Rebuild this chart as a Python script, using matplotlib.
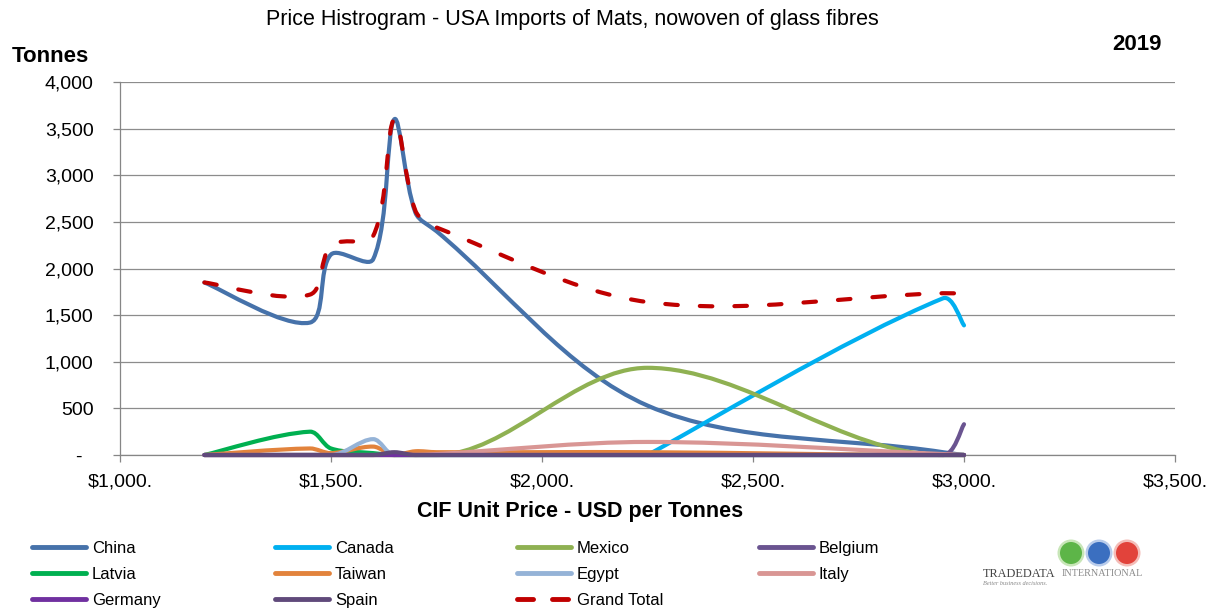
import numpy as np
import matplotlib
matplotlib.use("Agg")
import matplotlib.pyplot as plt
from matplotlib.path import Path
from matplotlib.patches import PathPatch, Circle
from matplotlib.lines import Line2D
from matplotlib.ticker import FuncFormatter, MultipleLocator

plt.rcParams['font.family'] = ['Liberation Sans', 'DejaVu Sans']

# CIF unit price points (USD per tonne)
prices = [1200, 1450, 1500, 1600, 1650, 1700, 1750, 2250, 2950, 3000]

# tonnes per price point (None = no data)
china = [1850, 1420, 2150, 2100, 3600, 2600, 2400, 530, 30, 0]
canada = [None, None, None, None, None, None, None, 0, 1680, 1390]
mexico = [0, 0, 0, 0, 0, 0, 0, 935, 0, 0]
belgium = [0, 0, 0, 0, 0, 0, 0, 0, 0, 330]
latvia = [0, 250, 70, 20, 0, 0, 0, 0, 0, 0]
taiwan = [0, 70, 20, 90, 0, 40, 30, 30, 0, 0]
egypt = [0, 0, 0, 170, 0, 0, 0, 0, 0, 0]
italy = [0, 0, 0, 0, 0, 0, 10, 140, 10, 0]
germany = [0, 0, 0, 0, 0, 0, 0, 0, 0, 0]
spain = [0, 0, 0, 0, 30, 0, 0, 0, 0, 0]
grand_total = [1850, 1720, 2250, 2350, 3600, 2620, 2440, 1640, 1735, 1730]

series = [
    ("China", china, "#4672AA"),
    ("Canada", canada, "#00B0F0"),
    ("Mexico", mexico, "#8FB152"),
    ("Belgium", belgium, "#6A5490"),
    ("Latvia", latvia, "#00B050"),
    ("Taiwan", taiwan, "#E2833C"),
    ("Egypt", egypt, "#95B3D7"),
    ("Italy", italy, "#D99694"),
    ("Germany", germany, "#7030A0"),
    ("Spain", spain, "#604A7B"),
]

W, H = 1212, 608
ax_box = [120, 82, 1175, 455]  # left, top, right, bottom in pixels
xmin, xmax, ymin, ymax = 1000, 3500, 0, 4000


def smooth_path(xs, ys, sx, sy):
    # Excel-like smoothed line: bezier segments, handles scaled by segment length
    pts = [(x, y) for x, y in zip(xs, ys) if y is not None]
    p = np.array(pts, float) * [sx, sy]
    n = len(p)
    c_out = np.zeros_like(p)
    c_in = np.zeros_like(p)
    for i in range(n):
        if i == 0:
            c_out[i] = p[i] + (p[1] - p[0]) / 6
            continue
        if i == n - 1:
            c_in[i] = p[i] - (p[i] - p[i - 1]) / 6
            continue
        t = p[i + 1] - p[i - 1]
        if p[i][1] == 0:
            t[1] = 0  # keep zero points flat on the axis
        d_in = np.hypot(*(p[i] - p[i - 1]))
        d_out = np.hypot(*(p[i + 1] - p[i]))
        s = d_in + d_out
        if s == 0:
            c_out[i] = p[i]
            c_in[i] = p[i]
        else:
            c_out[i] = p[i] + t * d_out / s / 3
            c_in[i] = p[i] - t * d_in / s / 3
    verts = [p[0]]
    codes = [Path.MOVETO]
    for i in range(n - 1):
        verts += [c_out[i], c_in[i + 1], p[i + 1]]
        codes += [Path.CURVE4] * 3
    verts = np.array(verts) / [sx, sy]
    return Path(verts, codes)


fig = plt.figure(figsize=(W / 100, H / 100), dpi=100)
ax = fig.add_axes([ax_box[0] / W, 1 - ax_box[3] / H,
                   (ax_box[2] - ax_box[0]) / W, (ax_box[3] - ax_box[1]) / H])
ax.set_xlim(xmin, xmax)
ax.set_ylim(ymin, ymax)

sx = (ax_box[2] - ax_box[0]) / (xmax - xmin)
sy = (ax_box[3] - ax_box[1]) / (ymax - ymin)

for name, vals, col in series:
    ax.add_patch(PathPatch(smooth_path(prices, vals, sx, sy), fill=False,
                           edgecolor=col, lw=3, capstyle='round',
                           joinstyle='round', clip_on=False, zorder=3))
ax.add_patch(PathPatch(smooth_path(prices, grand_total, sx, sy), fill=False,
                       edgecolor="#C00000", lw=3, linestyle=(0, (3.0, 5.3)),
                       capstyle='round', joinstyle='round', clip_on=False, zorder=4))

ax.xaxis.set_major_locator(MultipleLocator(500))
ax.yaxis.set_major_locator(MultipleLocator(500))
ax.xaxis.set_major_formatter(FuncFormatter(lambda v, p: "${:,.0f}.".format(v)))
ax.yaxis.set_major_formatter(FuncFormatter(lambda v, p: "-  " if v == 0 else "{:,.0f}".format(v)))

for s in ["top", "right"]:
    ax.spines[s].set_visible(False)
for s in ["left", "bottom"]:
    ax.spines[s].set_color("#868686")
    ax.spines[s].set_linewidth(0.9)
ax.grid(axis='y', color="#8C8C8C", lw=0.9)
ax.set_axisbelow(True)
ax.tick_params(axis='both', direction='out', length=5, color="#868686", width=0.9, labelsize=14)
ax.tick_params(axis='y', pad=14)
ax.tick_params(axis='x', pad=8)

fig.text(572 / W, 1 - 20 / H, "Price Histrogram - USA Imports of Mats, nowoven of glass fibres",
         ha='center', va='center', fontsize=15.5)
fig.text(12 / W, 1 - 57 / H, "Tonnes", ha='left', va='center', fontsize=16, fontweight='bold')
fig.text(1162 / W, 1 - 45 / H, "2019", ha='right', va='center', fontsize=16, fontweight='bold')
fig.text(580 / W, 1 - 512 / H, "CIF Unit Price - USD per Tonnes", ha='center', va='center',
         fontsize=15.5, fontweight='bold')

# legend, laid out like the Excel one (row by row)
legend_items = [(n, c) for n, v, c in series] + [("Grand Total", "#C00000")]
col_x = [30, 273, 515, 757]
row_y = [547, 573, 599]
for k, (name, col) in enumerate(legend_items):
    x0 = col_x[k % 4]
    y0 = 1 - row_y[k // 4] / H
    if name == "Grand Total":
        ln = Line2D([(x0 + 2) / W, (x0 + 56) / W], [y0, y0], transform=fig.transFigure,
                    color=col, lw=3.5, linestyle=(0, (3.3, 3.9)), dash_capstyle='round')
    else:
        ln = Line2D([(x0 + 2) / W, (x0 + 56) / W], [y0, y0], transform=fig.transFigure,
                    color=col, lw=3.5, solid_capstyle='round')
    fig.add_artist(ln)
    fig.text((x0 + 62) / W, y0 - 6 / H, name, ha='left', va='baseline', fontsize=12)

# TradeData logo
lax = fig.add_axes([975 / W, 1 - 592 / H, 170 / W, 56 / H])
lax.set_xlim(975, 1145)
lax.set_ylim(592, 536)
lax.set_aspect('equal')
lax.axis('off')
for cx, c1, c2 in [(1071, "#5DB548", "#C8E6B8"), (1099, "#3B6FC0", "#B9CCEB"), (1127, "#E2433B", "#F4BDB8")]:
    lax.add_patch(Circle((cx, 553), 13.5, color=c2, lw=0))
    lax.add_patch(Circle((cx, 553), 11, color=c1, lw=0))
lax.text(983, 574, "TRADEDATA", fontsize=8.8, color="#444444", va='center', ha='left',
         family=['Liberation Serif', 'DejaVu Serif'])
lax.text(1062, 574, "INTERNATIONAL", fontsize=7.3, color="#8A8A8A", va='center', ha='left',
         family=['Liberation Serif', 'DejaVu Serif'])
lax.text(983, 584, "Better business decisions.", fontsize=4.5, color="#888888", va='center',
         ha='left', style='italic', family=['Liberation Serif', 'DejaVu Serif'])

fig.savefig("out.png", dpi=100)
